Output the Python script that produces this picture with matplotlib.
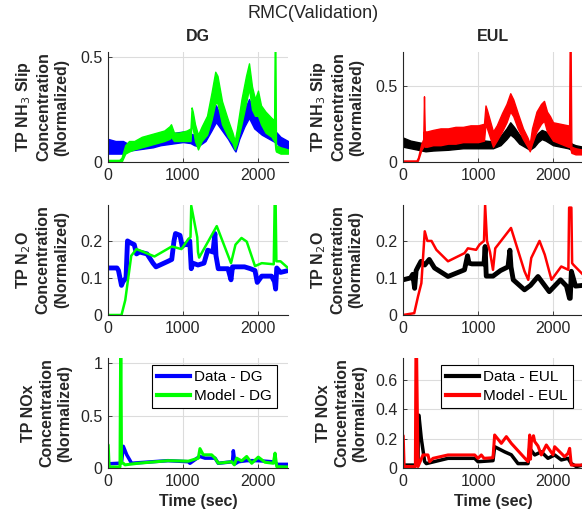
import matplotlib
matplotlib.use("Agg")
import matplotlib.pyplot as plt
from matplotlib.ticker import FuncFormatter

plt.rcParams['font.family'] = ['Liberation Sans', 'DejaVu Sans']

# ---------------- data ----------------
# NH3 slip, DG (noisy bands: lower / upper envelope)
t_nh3_dg_data = [0, 100, 200, 250, 300, 400, 500, 600, 700, 800, 900, 1000, 1100, 1150, 1200, 1300, 1380,
                 1440, 1500, 1600, 1680, 1700, 1750, 1820, 1880, 1950, 2050, 2150, 2250, 2300, 2400]
nh3_dg_data_lo = [0.04, 0.04, 0.04, 0.05, 0.055, 0.06, 0.065, 0.07, 0.08, 0.085, 0.09, 0.095, 0.09, 0.08, 0.075,
                  0.10, 0.15, 0.19, 0.16, 0.11, 0.06, 0.05, 0.11, 0.17, 0.21, 0.16, 0.13, 0.11, 0.09, 0.07, 0.05]
nh3_dg_data_hi = [0.11, 0.10, 0.10, 0.09, 0.09, 0.10, 0.11, 0.115, 0.12, 0.13, 0.14, 0.145, 0.135, 0.13, 0.12,
                  0.17, 0.23, 0.27, 0.22, 0.16, 0.10, 0.09, 0.17, 0.25, 0.30, 0.24, 0.21, 0.17, 0.14, 0.12, 0.10]

t_nh3_dg_model = [0, 150, 180, 230, 280, 350, 450, 550, 650, 750, 820, 840, 880, 950, 1050, 1100, 1115, 1130,
                  1160, 1200, 1250, 1320, 1380, 1430, 1460, 1520, 1600, 1660, 1690, 1720, 1780, 1840, 1880, 1920,
                  1960, 2000, 2040, 2100, 2180, 2215, 2222, 2232, 2240, 2300, 2400]
nh3_dg_model_lo = [0.0, 0.0, 0.0, 0.04, 0.05, 0.06, 0.07, 0.08, 0.09, 0.10, 0.11, 0.12, 0.10, 0.10, 0.10, 0.10,
                   0.19, 0.16, 0.10, 0.06, 0.10, 0.13, 0.20, 0.28, 0.28, 0.18, 0.12, 0.09, 0.06, 0.09, 0.18, 0.28,
                   0.35, 0.25, 0.22, 0.22, 0.18, 0.14, 0.12, 0.10, 0.10, 0.06, 0.05, 0.04, 0.04]
nh3_dg_model_hi = [0.01, 0.01, 0.02, 0.08, 0.10, 0.10, 0.12, 0.13, 0.14, 0.15, 0.17, 0.18, 0.14, 0.14, 0.15, 0.16,
                   0.26, 0.24, 0.18, 0.13, 0.17, 0.22, 0.33, 0.43, 0.41, 0.29, 0.20, 0.14, 0.10, 0.16, 0.30, 0.41,
                   0.47, 0.36, 0.30, 0.34, 0.27, 0.24, 0.21, 0.20, 0.53, 0.53, 0.08, 0.07, 0.06]

# NH3 slip, EUL
t_nh3_eul_data = [0, 100, 200, 300, 400, 600, 800, 1000, 1100, 1200, 1300, 1380, 1430, 1480, 1550, 1620, 1690,
                  1750, 1800, 1850, 1900, 2000, 2100, 2200, 2250, 2300, 2400]
nh3_eul_data_lo = [0.10, 0.09, 0.08, 0.07, 0.075, 0.08, 0.09, 0.09, 0.09, 0.09, 0.11, 0.15, 0.18, 0.16, 0.12,
                   0.10, 0.08, 0.10, 0.13, 0.15, 0.14, 0.11, 0.10, 0.09, 0.08, 0.07, 0.06]
nh3_eul_data_hi = [0.16, 0.14, 0.13, 0.12, 0.125, 0.13, 0.14, 0.145, 0.14, 0.135, 0.17, 0.22, 0.26, 0.23, 0.18,
                   0.15, 0.13, 0.16, 0.19, 0.21, 0.20, 0.17, 0.16, 0.15, 0.12, 0.11, 0.10]

t_nh3_eul_model = [0, 180, 200, 245, 270, 280, 290, 320, 400, 500, 600, 700, 800, 900, 1000, 1080, 1100, 1120,
                   1160, 1200, 1250, 1320, 1380, 1430, 1470, 1530, 1600, 1660, 1690, 1720, 1780, 1840, 1880, 1920,
                   1960, 2000, 2100, 2200, 2215, 2222, 2235, 2245, 2300, 2400]
nh3_eul_model_lo = [0.0, 0.0, 0.01, 0.08, 0.10, 0.20, 0.10, 0.10, 0.11, 0.11, 0.12, 0.12, 0.13, 0.13, 0.13, 0.14,
                    0.25, 0.22, 0.16, 0.10, 0.14, 0.20, 0.26, 0.33, 0.30, 0.22, 0.15, 0.10, 0.07, 0.12, 0.20, 0.25,
                    0.27, 0.20, 0.17, 0.14, 0.12, 0.10, 0.10, 0.10, 0.08, 0.06, 0.05, 0.05]
nh3_eul_model_hi = [0.01, 0.01, 0.03, 0.12, 0.15, 0.43, 0.20, 0.20, 0.21, 0.22, 0.22, 0.23, 0.23, 0.24, 0.24, 0.25,
                    0.37, 0.34, 0.27, 0.20, 0.24, 0.32, 0.38, 0.45, 0.41, 0.32, 0.22, 0.16, 0.12, 0.22, 0.33, 0.38,
                    0.40, 0.33, 0.30, 0.26, 0.25, 0.24, 0.24, 0.75, 0.75, 0.10, 0.09, 0.08]

# N2O, DG
t_n2o_dg_data = [0, 120, 140, 180, 200, 240, 260, 300, 350, 380, 420, 520, 600, 640, 800, 850, 880, 900, 960,
                 990, 1010, 1060, 1090, 1110, 1130, 1200, 1280, 1330, 1400, 1425, 1440, 1470, 1600, 1640, 1660,
                 1700, 1820, 1900, 1960, 1990, 2050, 2180, 2220, 2235, 2250, 2300, 2400]
n2o_dg_data = [0.127, 0.127, 0.12, 0.08, 0.09, 0.10, 0.20, 0.195, 0.19, 0.165, 0.17, 0.165, 0.14, 0.13, 0.145,
               0.15, 0.20, 0.22, 0.215, 0.185, 0.19, 0.19, 0.20, 0.125, 0.14, 0.135, 0.14, 0.175, 0.17, 0.22,
               0.16, 0.125, 0.125, 0.095, 0.13, 0.13, 0.13, 0.125, 0.12, 0.088, 0.105, 0.105, 0.09, 0.07, 0.127,
               0.115, 0.12]
t_n2o_dg_model = [0, 180, 230, 270, 310, 380, 620, 850, 980, 1070, 1100, 1110, 1190, 1200, 1215, 1450, 1640,
                  1700, 1780, 1850, 1960, 2050, 2210, 2222, 2235, 2245, 2300, 2400]
n2o_dg_model = [0.0, 0.0, 0.04, 0.10, 0.16, 0.178, 0.158, 0.185, 0.178, 0.205, 0.21, 0.295, 0.21, 0.17, 0.155,
                0.24, 0.14, 0.19, 0.208, 0.198, 0.132, 0.14, 0.137, 0.30, 0.30, 0.145, 0.145, 0.127]

# N2O, EUL
t_n2o_eul_data = [0, 100, 130, 155, 175, 200, 240, 290, 350, 420, 600, 820, 860, 880, 920, 1080, 1095, 1110,
                  1200, 1300, 1400, 1425, 1440, 1470, 1620, 1700, 1800, 1950, 2100, 2180, 2220, 2230, 2245, 2300,
                  2400]
n2o_eul_data = [0.095, 0.10, 0.11, 0.072, 0.12, 0.13, 0.145, 0.135, 0.15, 0.127, 0.104, 0.122, 0.16, 0.14,
                0.138, 0.138, 0.185, 0.105, 0.105, 0.12, 0.13, 0.175, 0.13, 0.095, 0.068, 0.08, 0.104, 0.063,
                0.095, 0.078, 0.045, 0.045, 0.118, 0.078, 0.08]
t_n2o_eul_model = [0, 150, 200, 245, 290, 325, 380, 445, 600, 820, 865, 975, 1020, 1080, 1095, 1120, 1160,
                   1200, 1230, 1440, 1620, 1670, 1710, 1820, 1890, 1980, 2110, 2205, 2215, 2245, 2255, 2270, 2400]
n2o_eul_model = [0.0, 0.005, 0.05, 0.086, 0.226, 0.20, 0.20, 0.176, 0.145, 0.167, 0.18, 0.176, 0.19, 0.20,
                 0.297, 0.20, 0.17, 0.122, 0.18, 0.235, 0.118, 0.095, 0.154, 0.20, 0.163, 0.095, 0.131, 0.122,
                 0.29, 0.29, 0.14, 0.136, 0.109]

# NOx, DG
t_nox_dg_data = [0, 140, 180, 204, 250, 315, 400, 800, 1070, 1093, 1200, 1226, 1293, 1427, 1470, 1660, 1671,
                 1693, 1740, 1850, 2000, 2180, 2227, 2250, 2400]
nox_dg_data = [0.04, 0.045, 0.05, 0.207, 0.126, 0.045, 0.05, 0.07, 0.06, 0.045, 0.10, 0.11, 0.094, 0.094,
               0.045, 0.06, 0.165, 0.04, 0.06, 0.07, 0.07, 0.06, 0.06, 0.035, 0.035]
t_nox_dg_model = [0, 3, 15, 160, 168, 173, 180, 204, 227, 400, 800, 1070, 1204, 1226, 1270, 1382, 1427, 1471,
                  1649, 1684, 1715, 1782, 1849, 1916, 2004, 2093, 2204, 2227, 2250, 2400]
nox_dg_model = [0.22, 0.22, 0.01, 0.01, 1.05, 1.05, 0.05, 0.045, 0.03, 0.045, 0.07, 0.065, 0.094, 0.185, 0.126,
                0.126, 0.094, 0.045, 0.06, 0.03, 0.094, 0.068, 0.11, 0.045, 0.104, 0.055, 0.045, 0.142, 0.013,
                0.01]

# NOx, EUL
t_nox_eul_data = [0, 200, 205, 212, 244, 289, 311, 600, 955, 1000, 1200, 1222, 1356, 1444, 1533, 1667, 1689,
                  1756, 1844, 1933, 2022, 2111, 2200, 2244, 2311, 2400]
nox_eul_data = [0.02, 0.02, 0.36, 0.36, 0.20, 0.043, 0.03, 0.066, 0.066, 0.043, 0.05, 0.145, 0.11, 0.09, 0.03,
                0.03, 0.134, 0.089, 0.11, 0.066, 0.089, 0.055, 0.066, 0.03, 0.01, 0.02]
t_nox_eul_model = [0, 3, 15, 165, 172, 182, 200, 267, 333, 355, 400, 600, 955, 1000, 1044, 1080, 1200, 1222,
                   1311, 1378, 1444, 1667, 1689, 1700, 1711, 1740, 1756, 1800, 1844, 1911, 2000, 2022, 2155,
                   2200, 2222, 2244, 2400]
nox_eul_model = [0.22, 0.22, 0.01, 0.01, 0.75, 0.75, 0.01, 0.089, 0.089, 0.043, 0.066, 0.089, 0.089, 0.066,
                 0.089, 0.066, 0.07, 0.225, 0.168, 0.214, 0.168, 0.043, 0.225, 0.06, 0.18, 0.22, 0.18, 0.15,
                 0.089, 0.157, 0.09, 0.145, 0.077, 0.10, 0.134, 0.02, 0.02]

col_titles = ['DG', 'EUL']
row_labels = ['TP NH$_3$ Slip\nConcentration\n(Normalized)',
              'TP N$_2$O\nConcentration\n(Normalized)',
              'TP NOx\nConcentration\n(Normalized)']
legend_dg = ['Data - DG', 'Model - DG']
legend_eul = ['Data - EUL', 'Model - EUL']
xticks = [0, 1000, 2000]
yticks = {(0, 0): [0, 0.5], (0, 1): [0, 0.5], (1, 0): [0, 0.1, 0.2], (1, 1): [0, 0.1, 0.2],
          (2, 0): [0, 0.5, 1], (2, 1): [0, 0.2, 0.4, 0.6]}
ylims = {(0, 0): 0.524, (0, 1): 0.72, (1, 0): 0.297, (1, 1): 0.297, (2, 0): 1.05, (2, 1): 0.75}

# ---------------- figure ----------------
W, H = 582, 523
fig = plt.figure(figsize=(W / 100, H / 100), dpi=100)
GRAY = '#262626'
C_DG_DATA, C_DG_MODEL = '#0000ff', '#00ff00'
C_EUL_DATA, C_EUL_MODEL = '#000000', '#ff0000'

col_x = [108, 403]
row_y = [(52, 162), (205, 315), (358, 468)]
axes = {}
for r, (ytop, ybot) in enumerate(row_y):
    for c, x0 in enumerate(col_x):
        ax = fig.add_axes([x0 / W, 1 - ybot / H, 180 / W, (ybot - ytop) / H])
        axes[(r, c)] = ax
        ax.set_xlim(0, 2400)
        ax.set_ylim(0, ylims[(r, c)])
        ax.set_xticks(xticks)
        ax.set_yticks(yticks[(r, c)])
        fmt = FuncFormatter(lambda v, p: '%g' % v)
        ax.yaxis.set_major_formatter(fmt)
        ax.xaxis.set_major_formatter(fmt)
        ax.grid(True, color='#dcdcdc', lw=0.8)
        ax.set_axisbelow(True)
        for s in ['top', 'right']:
            ax.spines[s].set_visible(False)
        for s in ['left', 'bottom']:
            ax.spines[s].set_color(GRAY)
            ax.spines[s].set_linewidth(0.8)
        ax.tick_params(direction='in', length=3, width=0.6, colors=GRAY, labelsize=11.5, pad=4)
        for lab in ax.get_xticklabels() + ax.get_yticklabels():
            lab.set_color(GRAY)
        ax.text(-0.37 if r < 2 else -0.34, 0.5, row_labels[r], transform=ax.transAxes, rotation=90,
                ha='center', va='center', multialignment='center', fontsize=11.5, fontweight='bold',
                linespacing=1.25, color=GRAY)
        if r == 0:
            ax.set_title(col_titles[c], fontsize=11.5, fontweight='bold', color=GRAY, pad=8)
        if r == 2:
            ax.set_xlabel('Time (sec)', fontsize=11.5, fontweight='bold', color=GRAY, labelpad=4)

# row 1: NH3 slip (noisy bands)
ax = axes[(0, 0)]
ax.fill_between(t_nh3_dg_data, nh3_dg_data_lo, nh3_dg_data_hi, color=C_DG_DATA, lw=1.0)
ax.fill_between(t_nh3_dg_model, nh3_dg_model_lo, nh3_dg_model_hi, color=C_DG_MODEL, lw=1.0)
ax = axes[(0, 1)]
ax.fill_between(t_nh3_eul_data, nh3_eul_data_lo, nh3_eul_data_hi, color=C_EUL_DATA, lw=1.0)
ax.fill_between(t_nh3_eul_model, nh3_eul_model_lo, nh3_eul_model_hi, color=C_EUL_MODEL, lw=1.0)

# row 2: N2O
ax = axes[(1, 0)]
ax.plot(t_n2o_dg_data, n2o_dg_data, color=C_DG_DATA, lw=3.5)
ax.plot(t_n2o_dg_model, n2o_dg_model, color=C_DG_MODEL, lw=1.8)
ax = axes[(1, 1)]
ax.plot(t_n2o_eul_data, n2o_eul_data, color=C_EUL_DATA, lw=3.5)
ax.plot(t_n2o_eul_model, n2o_eul_model, color=C_EUL_MODEL, lw=1.8)

# row 3: NOx
legend_kw = dict(loc='upper right', borderaxespad=0, fontsize=11, fancybox=False, framealpha=1,
                 edgecolor='black', handlelength=2.1, borderpad=0.35, labelspacing=0.3, handletextpad=0.3)
ax = axes[(2, 0)]
l1, = ax.plot(t_nox_dg_data, nox_dg_data, color=C_DG_DATA, lw=2.5)
l2, = ax.plot(t_nox_dg_model, nox_dg_model, color=C_DG_MODEL, lw=2.2)
leg = ax.legend([l1, l2], legend_dg, bbox_to_anchor=(0.94, 0.935), **legend_kw)
leg.get_frame().set_linewidth(0.8)
for h in leg.get_lines():
    h.set_linewidth(3)

ax = axes[(2, 1)]
l1, = ax.plot(t_nox_eul_data, nox_eul_data, color=C_EUL_DATA, lw=2.5)
l2, = ax.plot(t_nox_eul_model, nox_eul_model, color=C_EUL_MODEL, lw=2.2)
leg = ax.legend([l1, l2], legend_eul, bbox_to_anchor=(0.945, 0.935), **legend_kw)
leg.get_frame().set_linewidth(0.8)
for h in leg.get_lines():
    h.set_linewidth(3)

fig.text(313 / W, 1 - 13 / H, 'RMC(Validation)', ha='center', va='center', fontsize=13, color=GRAY)

fig.savefig('out.png', dpi=100)
